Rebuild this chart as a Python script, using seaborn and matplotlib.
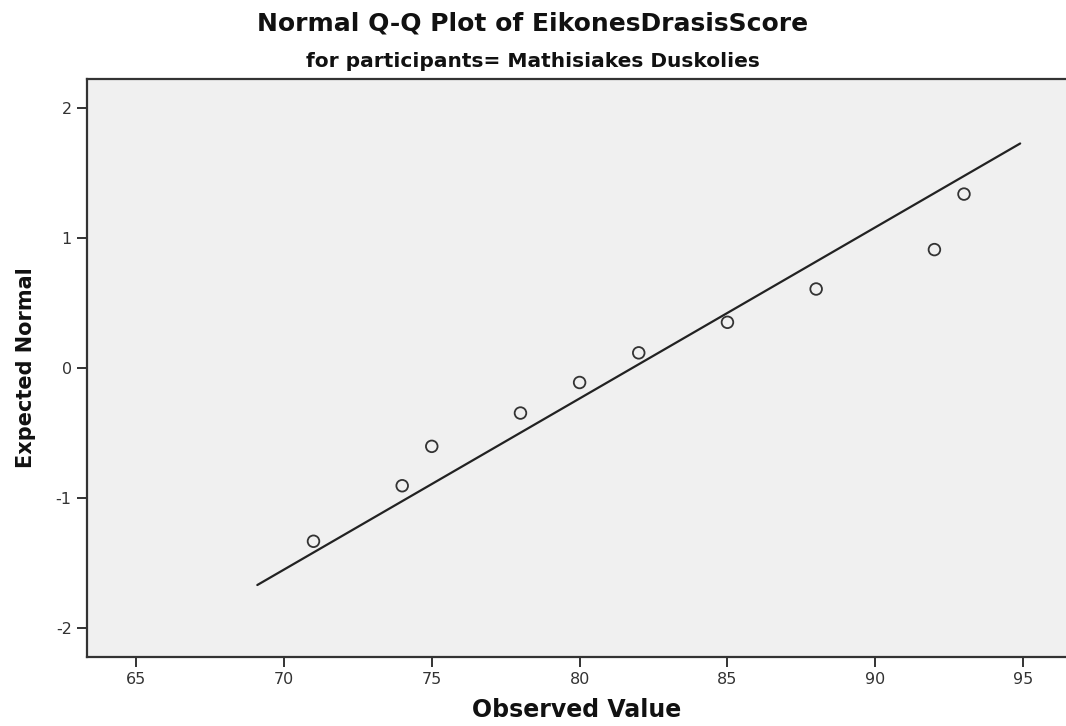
import numpy as np
import pandas as pd
import matplotlib
matplotlib.use("Agg")
import matplotlib.pyplot as plt
import seaborn as sns

# Observed scores and their expected normal quantiles
observed = [71, 74, 75, 78, 80, 82, 85, 88, 92, 93]
expected = [-1.335, -0.908, -0.605, -0.349, -0.114, 0.114, 0.349, 0.605, 0.908, 1.335]

# Horizontal extent of the reference line
line_x = [69.1, 94.9]

x_ticks = [65, 70, 75, 80, 85, 90, 95]
y_ticks = [-2, -1, 0, 1, 2]

sns.set_theme(style="white", rc={
    "axes.facecolor": "#F0F0F0",
    "axes.edgecolor": "#333333",
    "axes.linewidth": 1.6,
    "xtick.color": "#333333",
    "ytick.color": "#333333",
    "xtick.major.size": 7,
    "ytick.major.size": 7,
    "xtick.major.width": 1.4,
    "ytick.major.width": 1.4,
    "xtick.bottom": True,
    "ytick.left": True,
    "axes.unicode_minus": False,
})
plt.rcParams["font.family"] = ["DejaVu Sans"]

points = pd.DataFrame({"Observed": observed, "Expected": expected})
mean = np.mean(observed)
sd = np.std(observed, ddof=1)
fit = pd.DataFrame({"x": line_x, "y": [(v - mean) / sd for v in line_x]})

fig = plt.figure(figsize=(10.66, 7.26), dpi=100)
ax = fig.add_axes([87 / 1066, (726 - 657) / 726, (1066 - 87) / 1066, (657 - 79) / 726])

sns.lineplot(data=fit, x="x", y="y", ax=ax, color="#222222", linewidth=1.6)
sns.scatterplot(data=points, x="Observed", y="Expected", ax=ax,
                marker="o", s=70, facecolor="none", edgecolor="#333333",
                linewidth=1.3, zorder=3)

ax.set_xlim(63.34, 96.45)
ax.set_ylim(-2.225, 2.22)
ax.set_xticks(x_ticks)
ax.set_yticks(y_ticks)
ax.tick_params(axis="both", labelsize=11.5, labelcolor="#333333", pad=4)
ax.spines["right"].set_visible(False)

ax.set_xlabel("Observed Value", fontsize=17, fontweight="bold", color="#111111", labelpad=8)
ax.set_ylabel("Expected Normal", fontsize=15, fontweight="bold", color="#111111", labelpad=14)

fig.text(0.5, (726 - 31) / 726, "Normal Q-Q Plot of EikonesDrasisScore",
         ha="center", va="baseline", fontsize=18, fontweight="bold", color="#111111")
fig.text(0.5, (726 - 67) / 726, "for participants= Mathisiakes Duskolies",
         ha="center", va="baseline", fontsize=14.5, fontweight="bold", color="#111111")

fig.savefig("out.png", dpi=100)
